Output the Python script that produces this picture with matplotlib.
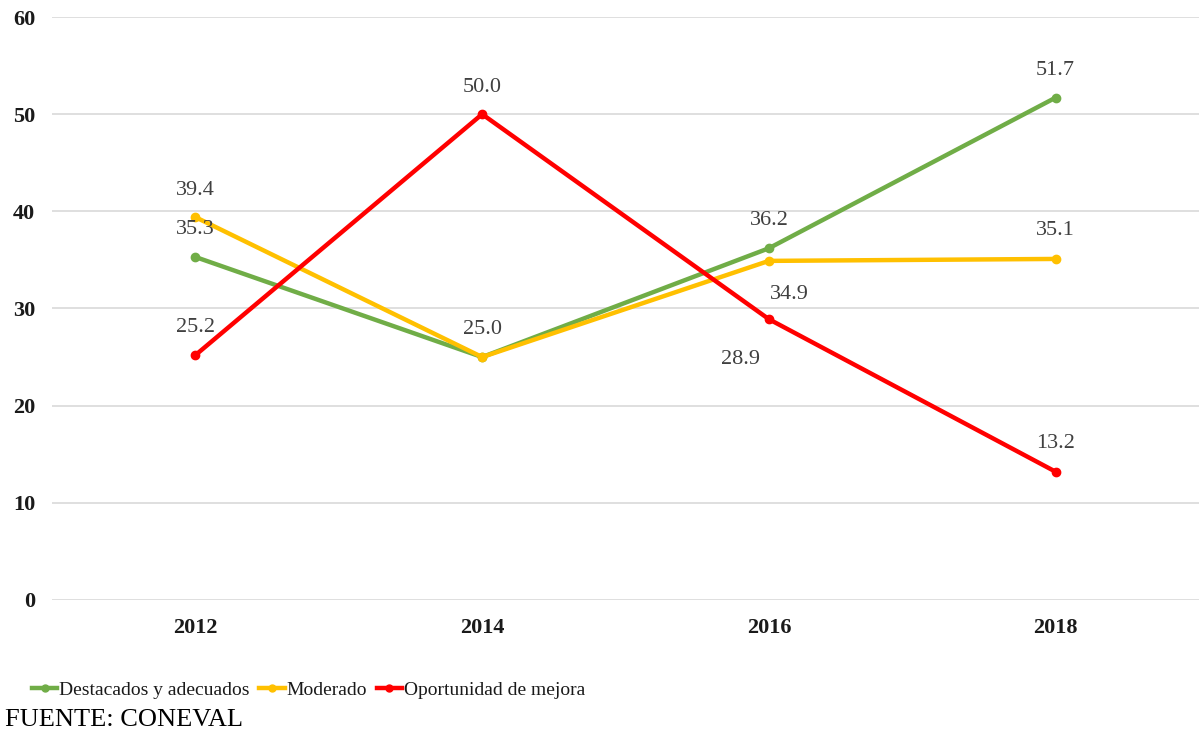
import matplotlib
matplotlib.use("Agg")
import matplotlib.pyplot as plt

years = ["2012", "2014", "2016", "2018"]
destacados = [35.3, 25.0, 36.2, 51.7]
moderado = [39.4, 25.0, 34.9, 35.1]
oportunidad = [25.2, 50.0, 28.9, 13.2]
series_names = ["Destacados y adecuados", "Moderado", "Oportunidad de mejora"]
colors = ["#70AD47", "#FFC000", "#FF0000"]
yticks = [0, 10, 20, 30, 40, 50, 60]

plt.rcParams['font.family'] = ['Liberation Serif', 'DejaVu Serif']

fig = plt.figure(figsize=(11.99, 7.36), dpi=100)
ax = fig.add_axes([0.0434, 0.1848, 0.9566, 0.7921])

x = list(range(len(years)))
series = [destacados, moderado, oportunidad]
for vals, name, c in zip(series, series_names, colors):
    ax.plot(x, vals, color=c, lw=3.2, marker='o', ms=6, label=name, zorder=3)

ax.set_xlim(-0.5, 3.5)
ax.set_ylim(0, 60)
ax.set_yticks(yticks)
ax.set_xticks(x)
ax.set_xticklabels(years)
for lab in ax.get_xticklabels() + ax.get_yticklabels():
    lab.set_fontweight('bold')
    lab.set_fontsize(16)
    lab.set_color('#1a1a1a')
ax.tick_params(length=0, axis='both')
ax.tick_params(axis='y', pad=12)
ax.tick_params(axis='x', pad=13)
ax.grid(axis='y', color='#D9D9D9', lw=1.2)
ax.set_axisbelow(True)
for s in ax.spines.values():
    s.set_visible(False)

lab_kw = dict(ha='center', va='center', fontsize=16, color='#404040')
def lab(i, v, dx=0, dy=0):
    ax.annotate(f"{v:.1f}", (i, v), xytext=(dx, dy), textcoords='offset pixels', **lab_kw)

# 2012
lab(0, moderado[0], 0, 27)
lab(0, destacados[0], 0, 27)
lab(0, oportunidad[0], 0, 28)
# 2014
lab(1, oportunidad[1], 0, 27)
lab(1, moderado[1], 0, 28)
# 2016
lab(2, destacados[2], 0, 28)
lab(2, moderado[2], 20, -34)
lab(2, oportunidad[2], -28, -40)
# 2018
lab(3, destacados[3], 0, 27)
lab(3, moderado[3], 0, 28)
lab(3, oportunidad[3], 0, 28)

handles, labels = ax.get_legend_handles_labels()
leg = fig.legend(handles, labels, loc='center left', bbox_to_anchor=(0.012, 0.062),
                 ncol=3, frameon=False, fontsize=14, handlelength=1.3,
                 handletextpad=0.1, columnspacing=0.5, labelcolor='#1a1a1a')
for h in leg.legend_handles:
    h.set_markersize(5)

fig.text(0.004, 0.022, "FUENTE: CONEVAL", fontsize=19, color='black', ha='left', va='center')

fig.savefig("out.png", dpi=100)
